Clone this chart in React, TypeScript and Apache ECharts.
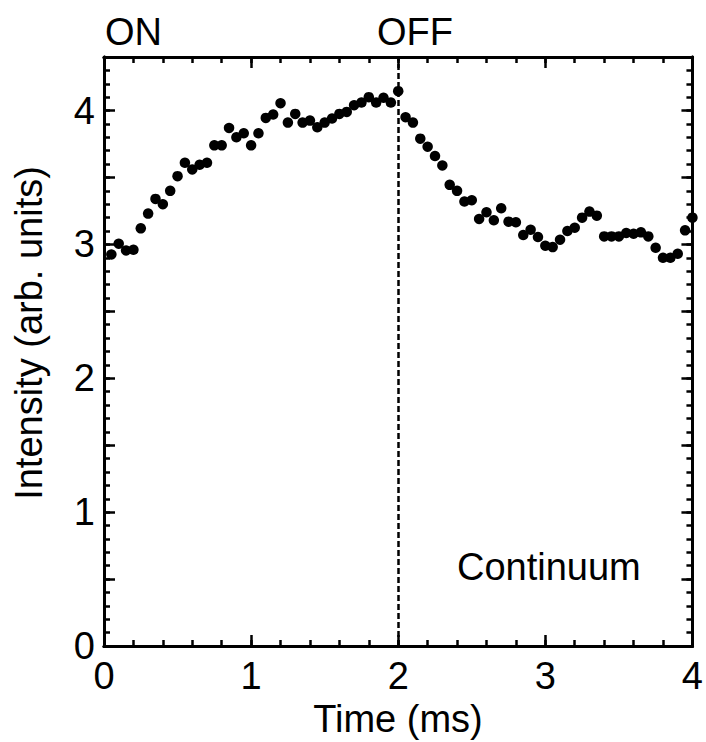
import React, { useEffect, useRef } from "react";
import * as echarts from "echarts";

const timeMs = [
  0.05, 0.1, 0.15, 0.2, 0.25, 0.3, 0.35, 0.4, 0.45, 0.5,
  0.55, 0.6, 0.65, 0.7, 0.75, 0.8, 0.85, 0.9, 0.95, 1.0,
  1.05, 1.1, 1.15, 1.2, 1.25, 1.3, 1.35, 1.4, 1.45, 1.5,
  1.55, 1.6, 1.65, 1.7, 1.75, 1.8, 1.85, 1.9, 1.95, 2.0,
  2.05, 2.1, 2.15, 2.2, 2.25, 2.3, 2.35, 2.4, 2.45, 2.5,
  2.55, 2.6, 2.65, 2.7, 2.75, 2.8, 2.85, 2.9, 2.95, 3.0,
  3.05, 3.1, 3.15, 3.2, 3.25, 3.3, 3.35, 3.4, 3.45, 3.5,
  3.55, 3.6, 3.65, 3.7, 3.75, 3.8, 3.85, 3.9, 3.95, 4.0,
];

const intensity = [
  2.925, 3.005, 2.955, 2.96, 3.12, 3.23, 3.34, 3.3, 3.4, 3.51,
  3.61, 3.56, 3.595, 3.61, 3.74, 3.74, 3.87, 3.8, 3.83, 3.74,
  3.83, 3.945, 3.97, 4.055, 3.91, 3.975, 3.91, 3.925, 3.875, 3.91,
  3.94, 3.975, 3.99, 4.04, 4.06, 4.1, 4.06, 4.095, 4.06, 4.145,
  3.95, 3.91, 3.79, 3.73, 3.66, 3.59, 3.445, 3.4, 3.32, 3.33,
  3.19, 3.24, 3.18, 3.27, 3.17, 3.165, 3.07, 3.11, 3.055, 2.99,
  2.98, 3.035, 3.1, 3.125, 3.2, 3.245, 3.215, 3.06, 3.06, 3.06,
  3.085, 3.08, 3.09, 3.06, 2.975, 2.9, 2.9, 2.93, 3.105, 3.2,
];

const xRange = [0, 4];
const yRange = [0, 4.4];
const switchOffTime = 2;
const annotations = { on: "ON", off: "OFF", label: "Continuum" };
const xTitle = "Time (ms)";
const yTitle = "Intensity (arb. units)";

const FONT = "'Liberation Sans', Arial, Helvetica, sans-serif";
const FS = 38;

export default function App() {
  const ref = useRef<HTMLDivElement>(null);
  useEffect(() => {
    if (!ref.current) return;
    const chart = echarts.init(ref.current, undefined, { renderer: "svg" });
    const line = { show: true, onZero: false, lineStyle: { color: "#000", width: 3 } };
    const mkX = (position: string, interval: number, len: number, labels: boolean) => ({
      type: "value",
      position,
      min: xRange[0],
      max: xRange[1],
      interval,
      axisLine: line,
      axisTick: { show: true, inside: true, length: len, lineStyle: { color: "#000", width: 2.5 } },
      axisLabel: labels
        ? { show: true, color: "#000", fontSize: FS, fontFamily: FONT, margin: 15, lineHeight: 30 }
        : { show: false },
      splitLine: { show: false },
    });
    const mkY = (position: string, interval: number, len: number, labels: boolean) => ({
      type: "value",
      position,
      min: yRange[0],
      max: yRange[1],
      interval,
      axisLine: line,
      axisTick: { show: true, inside: true, length: len, lineStyle: { color: "#000", width: 2.5 } },
      axisLabel: labels
        ? {
            show: true,
            color: "#000",
            fontSize: FS,
            fontFamily: FONT,
            margin: 9,
            lineHeight: 30,
            formatter: (v: number) => (Math.abs(v - Math.round(v)) < 1e-9 ? String(Math.round(v)) : ""),
          }
        : { show: false },
      splitLine: { show: false },
    });
    const txt = (text: string, x: number, y: number, align: string, extra: any = {}) => ({
      type: "text",
      x,
      y,
      ...extra,
      style: {
        text,
        font: `${FS}px ${FONT}`,
        fill: "#000",
        lineHeight: 30,
        textAlign: align,
        textVerticalAlign: "middle",
      },
    });
    chart.setOption({
      animation: false,
      backgroundColor: "#fff",
      grid: { left: 104, right: 13, top: 57, bottom: 96, containLabel: false },
      xAxis: [
        mkX("bottom", 1, 11, true),
        mkX("bottom", 0.2, 6, false),
        mkX("top", 1, 11, false),
        mkX("top", 0.2, 6, false),
      ],
      yAxis: [
        mkY("left", 0.5, 11, true),
        mkY("left", 0.1, 6, false),
        mkY("right", 0.5, 11, false),
        mkY("right", 0.1, 6, false),
      ],
      series: [
        {
          type: "scatter",
          xAxisIndex: 0,
          yAxisIndex: 0,
          symbol: "circle",
          symbolSize: 10.5,
          itemStyle: { color: "#000", opacity: 1 },
          data: timeMs.map((t, i) => [t, intensity[i]]),
          markLine: {
            silent: true,
            symbol: ["none", "none"],
            label: { show: false },
            lineStyle: { color: "#000", width: 2.5, type: [6, 3], opacity: 1 },
            data: [{ xAxis: switchOffTime }],
          },
          z: 3,
        },
      ],
      graphic: [
        txt(annotations.on, 105, 32, "left"),
        txt(annotations.off, 377, 32, "left"),
        txt(annotations.label, 457, 567, "left"),
        txt(xTitle, 398, 719, "center"),
        txt(yTitle, 29, 333, "center", { rotation: Math.PI / 2 }),
      ],
    });
    return () => chart.dispose();
  }, []);
  return (
    <div
      ref={ref}
      style={{ position: "fixed", left: 0, top: 0, width: 706, height: 742, background: "#fff" }}
    />
  );
}
